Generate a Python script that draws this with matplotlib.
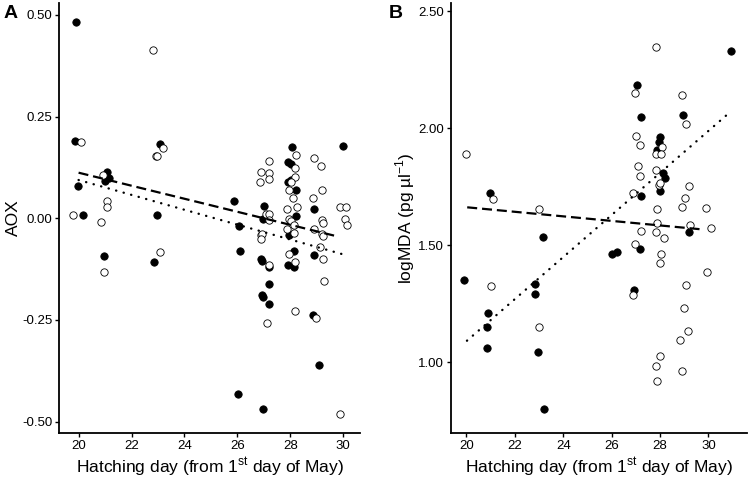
import matplotlib
matplotlib.use("Agg")
import matplotlib.pyplot as plt
import numpy as np

plt.rcParams['font.family'] = ['Liberation Sans', 'DejaVu Sans']
plt.rcParams['mathtext.fontset'] = 'custom'
plt.rcParams['mathtext.rm'] = 'Liberation Sans'

# Panel A: AOX vs hatching day
a_fill_day = [19.92, 19.87, 19.96, 20.18, 21.07, 20.98, 21.16, 20.97, 22.85, 23.06,
              22.98, 25.88, 26.07, 26.10, 26.03, 27.01, 26.97, 26.88, 26.93, 27.20,
              27.20, 26.94, 26.98, 27.20, 26.97, 28.06, 27.92, 28.02, 27.90, 28.02,
              28.23, 28.23, 27.94, 28.13, 27.90, 28.13, 28.90, 28.90, 28.87, 29.10, 29.98]
a_fill_aox = [0.482, 0.190, 0.079, 0.008, 0.113, 0.092, 0.099, -0.093, -0.107, 0.182,
              0.009, 0.042, -0.018, -0.081, -0.432, 0.030, -0.001, -0.101, -0.104, -0.119,
              -0.161, -0.189, -0.193, -0.211, -0.468, 0.174, 0.138, 0.133, 0.089, 0.093,
              0.069, 0.006, -0.042, -0.080, -0.115, -0.121, 0.022, -0.091, -0.239, -0.360, 0.177]
a_open_day = [19.80, 20.11, 20.84, 20.93, 21.06, 21.06, 20.96, 22.82, 22.91, 22.97, 23.20, 23.08,
              26.88, 27.19, 26.86, 27.19, 27.19, 27.07, 27.18, 27.18, 26.88, 26.94, 26.90, 27.20, 27.10,
              28.21, 28.19, 28.19, 28.02, 27.96, 28.11, 27.86, 28.24, 27.94, 28.03, 28.12, 27.88, 28.12,
              27.94, 28.16, 28.19,
              28.89, 29.17, 29.21, 28.87, 29.20, 29.22, 28.90, 29.20, 29.23, 29.12, 29.22, 29.26, 28.97,
              29.87, 30.10, 30.05, 30.13, 29.86]
a_open_aox = [0.009, 0.188, -0.008, 0.106, 0.042, 0.027, -0.132, 0.414, 0.153, 0.153, 0.173, -0.082,
              0.114, 0.112, 0.090, 0.096, 0.141, 0.011, 0.010, -0.004, -0.041, -0.039, -0.052, -0.115, -0.257,
              0.156, 0.123, 0.102, 0.090, 0.070, 0.051, 0.022, 0.027, -0.002, -0.006, -0.017, -0.026, -0.036,
              -0.088, -0.108, -0.227,
              0.149, 0.129, 0.070, 0.051, -0.004, -0.011, -0.027, -0.039, -0.044, -0.071, -0.099, -0.153, -0.245,
              0.028, 0.028, -0.003, -0.016, -0.480]
a_dash_x, a_dash_y = [20.0, 29.8], [0.112, -0.045]
a_dot_x, a_dot_y = [20.0, 30.06], [0.094, -0.090]

# Panel B: logMDA vs hatching day
b_fill_day = [30.95, 27.06, 27.21, 28.95, 28.01, 27.97, 27.88, 28.11, 28.22, 28.00, 27.22, 20.99,
              23.17, 29.21, 26.00, 26.22, 27.18, 19.88, 22.85, 22.84, 20.88, 20.83, 20.83, 22.95,
              23.19, 26.93]
b_fill_mda = [2.329, 2.186, 2.048, 2.058, 1.963, 1.943, 1.907, 1.810, 1.786, 1.733, 1.709, 1.724,
              1.537, 1.558, 1.462, 1.471, 1.486, 1.352, 1.336, 1.291, 1.211, 1.152, 1.062, 1.045,
              0.799, 1.309]
b_open_day = [19.97, 21.10, 22.98, 27.83, 26.98, 28.92, 29.07, 27.02, 27.16, 28.08, 27.83, 28.05,
              27.09, 27.18, 27.83, 27.97, 28.00, 29.20, 26.89, 29.04, 28.90, 29.89, 27.86, 27.86,
              29.23, 30.12, 27.22, 27.83, 28.15, 26.96, 28.04, 28.00, 29.94, 21.00, 29.07, 26.87,
              28.99, 22.98, 29.14, 28.84, 28.01, 27.83, 28.90, 27.86]
b_open_mda = [1.890, 1.697, 1.655, 2.349, 2.151, 2.141, 2.020, 1.967, 1.930, 1.920, 1.890, 1.890,
              1.840, 1.795, 1.820, 1.759, 1.768, 1.752, 1.725, 1.701, 1.662, 1.658, 1.654, 1.595,
              1.587, 1.575, 1.561, 1.556, 1.532, 1.504, 1.463, 1.424, 1.385, 1.327, 1.332, 1.289,
              1.231, 1.152, 1.135, 1.094, 1.026, 0.984, 0.964, 0.919]
b_dash_x, b_dash_y = [20.03, 29.7], [1.662, 1.568]
b_dot_x, b_dot_y = [20.02, 30.95], [1.092, 2.074]

xlab = 'Hatching day (from 1$^{\\mathrm{st}}$ day of May)'

fig = plt.figure(figsize=(7.5, 4.79), dpi=100)
axA = fig.add_axes([0.079, 0.0967, 0.401, 0.897])
axB = fig.add_axes([0.601, 0.0967, 0.3946, 0.897])


def style(ax):
    for s in ['top', 'right']:
        ax.spines[s].set_visible(False)
    for s in ['left', 'bottom']:
        ax.spines[s].set_linewidth(1.3)
    ax.tick_params(width=1.0, length=3, labelsize=9.5, colors='black', pad=2)
    ax.set_xticks([20, 22, 24, 26, 28, 30])
    ax.set_xlabel(xlab, fontsize=12.5, labelpad=3)


def draw(ax, fd, fv, od, ov, dx, dy, tx, ty):
    ax.scatter(fd, fv, s=28, c='black', edgecolors='black', linewidths=0.6, zorder=2)
    ax.scatter(od, ov, s=28, facecolors='white', edgecolors='black', linewidths=0.6, zorder=3)
    ax.plot(dx, dy, color='black', lw=1.6, linestyle=(0, (4.5, 2.2)), zorder=4)
    ax.plot(tx, ty, color='black', lw=1.7, linestyle=(0, (0.1, 3.2)),
            dash_capstyle='round', zorder=4)


draw(axA, a_fill_day, a_fill_aox, a_open_day, a_open_aox, a_dash_x, a_dash_y, a_dot_x, a_dot_y)
axA.set_xlim(19.27, 30.63)
axA.set_ylim(-0.527, 0.529)
axA.set_yticks([-0.50, -0.25, 0.00, 0.25, 0.50])
axA.set_yticklabels(['-0.50', '-0.25', '0.00', '0.25', '0.50'])
axA.set_ylabel('AOX', fontsize=12.5, labelpad=1)
style(axA)

draw(axB, b_fill_day, b_fill_mda, b_open_day, b_open_mda, b_dash_x, b_dash_y, b_dot_x, b_dot_y)
axB.set_xlim(19.35, 31.58)
axB.set_ylim(0.699, 2.535)
axB.set_yticks([1.0, 1.5, 2.0, 2.5])
axB.set_yticklabels(['1.00', '1.50', '2.00', '2.50'])
axB.set_ylabel('logMDA (pg µl$^{\\mathrm{-1}}$)', fontsize=12.5, labelpad=1)
style(axB)

fig.text(0.005, 0.99, 'A', fontsize=14, fontweight='bold', va='top', ha='left')
fig.text(0.519, 0.99, 'B', fontsize=14, fontweight='bold', va='top', ha='left')

fig.savefig('out.png', dpi=100)
